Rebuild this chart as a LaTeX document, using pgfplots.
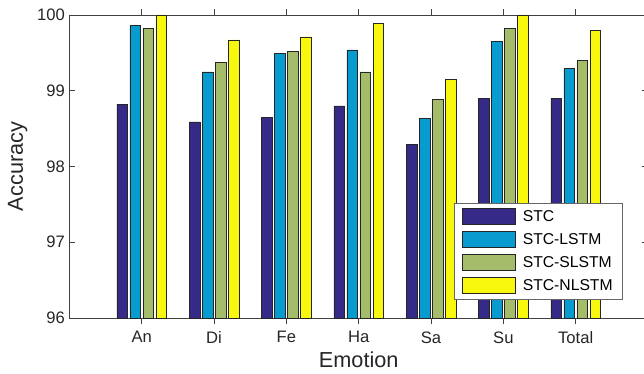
\documentclass[border=0pt]{standalone}
\usepackage{pgfplots}
\pgfplotsset{compat=1.18}
\usepackage{fontspec}
\setmainfont{Liberation Sans}
\definecolor{cA}{HTML}{352A87}
\definecolor{cB}{HTML}{079BD0}
\definecolor{cC}{HTML}{A5BD6A}
\definecolor{cD}{HTML}{F8F80F}
\definecolor{axc}{HTML}{404040}
\begin{document}
\begin{tikzpicture}
\useasboundingbox (-69.4pt,-56pt) rectangle (574.6pt,318pt);
\begin{axis}[
  scale only axis, width=578.6pt, height=303pt,
  xmin=0, xmax=8, ymin=96, ymax=100,
  xtick={1,2,3,4,5,6,7},
  xticklabels={An,Di,Fe,Ha,Sa,Su,Total},
  ytick={96,97,98,99,100},
  tick align=inside, major tick length=6pt,
  tick style={axc, line width=0.6pt},
  axis line style={axc, line width=0.8pt},
  /pgf/number format/assume math mode=true,
  tick label style={font=\fontsize{16.6}{19}\selectfont, text=black!85},
  xticklabel style={yshift=-4pt},
  yticklabel style={xshift=-1pt},
  xlabel={Emotion}, ylabel={Accuracy},
  label style={font=\fontsize{21.7}{25}\selectfont, text=black!85},
  xlabel style={yshift=-1pt},
  ylabel style={yshift=3pt},
  ybar, bar width=10.7pt,
  every axis plot/.append style={draw=black!85, line width=0.6pt},
  legend image code/.code={\draw[#1, bar shift=0pt] (0pt,-8pt) rectangle (53pt,8pt);},
  legend style={at={(axis cs:7.654,97.52)}, anchor=north east,
    draw=black!60, line width=0.6pt, fill=white,
    font=\fontsize{15.7}{19}\selectfont, inner xsep=8pt, inner ysep=5pt,
    row sep=6.5pt, legend cell align=left,
    /tikz/every odd column/.append style={column sep=5pt}},
]
\addplot[fill=cA, bar shift=-19.5pt] coordinates {(1,98.825) (2,98.59) (3,98.65) (4,98.80) (5,98.29) (6,98.90) (7,98.90)};
\addplot[fill=cB, bar shift=-6.5pt] coordinates {(1,99.86) (2,99.25) (3,99.49) (4,99.54) (5,98.63) (6,99.65) (7,99.30)};
\addplot[fill=cC, bar shift=6.5pt] coordinates {(1,99.82) (2,99.37) (3,99.52) (4,99.25) (5,98.89) (6,99.82) (7,99.40)};
\addplot[fill=cD, bar shift=19.5pt] coordinates {(1,100) (2,99.67) (3,99.71) (4,99.89) (5,99.15) (6,100) (7,99.80)};
\legend{STC,STC-LSTM,STC-SLSTM,STC-NLSTM}
\end{axis}
\end{tikzpicture}
\end{document}
